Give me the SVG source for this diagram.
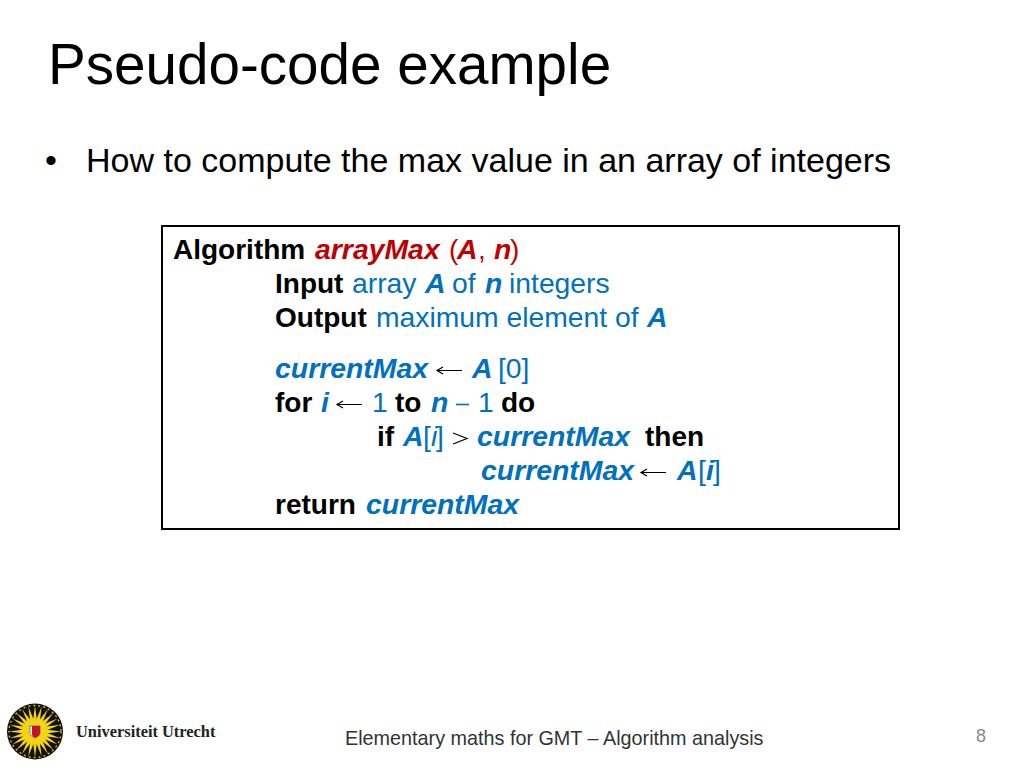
<svg xmlns="http://www.w3.org/2000/svg" width="1024" height="768" viewBox="0 0 1024 768">
<style>
text{font-family:"Liberation Sans",Arial,sans-serif;fill:#000}
.c{font-size:28px}
.k{font-weight:bold}
.b{fill:#0070c0;font-size:28.3px}
.bi{fill:#0070c0;font-weight:bold;font-style:italic;font-size:28.4px}
.r{fill:#c00000}
.ri{fill:#c00000;font-weight:bold;font-style:italic;font-size:28.4px}
.arrow{fill:none;stroke:#000;stroke-width:1.2}
</style>
<defs>
<polygon id="ray" points="-2.2,-9 2.2,-9 0,-26" fill="#f2d516"/>
<g id="left"><path class="arrow" d="M1 0.5H26M7 -3L1 0.5L7 4"/></g>
</defs>
<rect width="1024" height="768" fill="#fff"/>
<g id="title"><text x="48" y="84" font-size="56.6">Pseudo-code example</text></g>
<g id="bullet">
<text x="45" y="172" font-size="34">•</text>
<text x="86" y="172" font-size="34">How to compute the max value in an array of integers</text>
</g>
<g id="algorithm">
<rect x="162" y="226" width="737" height="303" fill="#fff" stroke="#000" stroke-width="2"/>
<text class="c" y="259"><tspan x="173" class="k">Algorithm</tspan><tspan x="315" class="ri">arrayMax</tspan><tspan x="449" class="r">(</tspan><tspan x="457" class="ri">A</tspan><tspan x="478" class="r">,</tspan><tspan x="494" class="ri">n</tspan><tspan x="510" class="r">)</tspan></text>
<text class="c" y="293"><tspan x="275" class="k">Input</tspan><tspan x="352" class="b">array</tspan><tspan x="425" class="bi">A</tspan><tspan x="452" class="b">of</tspan><tspan x="485" class="bi">n</tspan><tspan x="509" class="b">integers</tspan></text>
<text class="c" y="327"><tspan x="275" class="k">Output</tspan><tspan x="376" class="b">maximum element of</tspan><tspan x="647" class="bi">A</tspan></text>
<text class="c" y="378"><tspan x="275" class="bi">currentMax</tspan><tspan x="472" class="bi">A</tspan><tspan x="498" class="b">[0]</tspan></text>
<use href="#left" x="436" y="370"/>
<text class="c" y="412"><tspan x="275" class="k">for</tspan><tspan x="321" class="bi">i</tspan><tspan x="372" class="b">1</tspan><tspan x="395" class="k">to</tspan><tspan x="431" class="bi">n</tspan><tspan x="478" class="b">1</tspan><tspan x="501" class="k">do</tspan></text>
<use href="#left" x="336" y="404"/>
<path d="M456 404.500H469" stroke="#0070c0" stroke-width="1.6"/>
<text class="c" y="446"><tspan x="377" class="k">if</tspan><tspan x="403" class="bi">A</tspan><tspan x="423" class="b">[</tspan><tspan x="431" class="b" font-style="italic">i</tspan><tspan x="436" class="b">]</tspan><tspan x="477" class="bi">currentMax</tspan><tspan x="645" class="k">then</tspan></text>
<path class="arrow" d="M453 433L467 438.500L453 444"/>
<text class="c" y="480"><tspan x="481" class="bi">currentMax</tspan><tspan x="677" class="bi">A</tspan><tspan x="698" class="b">[</tspan><tspan x="706" class="bi">i</tspan><tspan x="713" class="b">]</tspan></text>
<use href="#left" x="640" y="472"/>
<text class="c" y="514"><tspan x="275" class="k">return</tspan><tspan x="366" class="bi">currentMax</tspan></text>
</g>
<g id="logo">
<circle cx="35" cy="731.500" r="28" fill="#111"/>
<g transform="translate(35 731.500)">
<circle r="26" fill="none" stroke="#c9b22a" stroke-width="1.500" stroke-dasharray="2 3"/>
<use href="#ray"/><use href="#ray" transform="rotate(15)"/><use href="#ray" transform="rotate(30)"/><use href="#ray" transform="rotate(45)"/><use href="#ray" transform="rotate(60)"/><use href="#ray" transform="rotate(75)"/><use href="#ray" transform="rotate(90)"/><use href="#ray" transform="rotate(105)"/><use href="#ray" transform="rotate(120)"/><use href="#ray" transform="rotate(135)"/><use href="#ray" transform="rotate(150)"/><use href="#ray" transform="rotate(165)"/><use href="#ray" transform="rotate(180)"/><use href="#ray" transform="rotate(195)"/><use href="#ray" transform="rotate(210)"/><use href="#ray" transform="rotate(225)"/><use href="#ray" transform="rotate(240)"/><use href="#ray" transform="rotate(255)"/><use href="#ray" transform="rotate(270)"/><use href="#ray" transform="rotate(285)"/><use href="#ray" transform="rotate(300)"/><use href="#ray" transform="rotate(315)"/><use href="#ray" transform="rotate(330)"/><use href="#ray" transform="rotate(345)"/>
<circle r="12" fill="#f2d516"/>
</g>
<path d="M30 726H40V733Q40 736 35 738Q30 736 30 733Z" fill="#fff" stroke="#222" stroke-width="0.500"/>
<path d="M32 726H40V733Q40 736 35 738Q33 737 32 735Z" fill="#c8102e"/>
<text x="76" y="737" font-size="16.4" font-weight="bold" style="font-family:'Liberation Serif',serif;fill:#222">Universiteit Utrecht</text>
</g>
<g id="footer">
<text x="345" y="745" font-size="19.800" style="fill:#333">Elementary maths for GMT – Algorithm analysis</text>
<text x="976" y="742" font-size="18" style="fill:#8a8a8a">8</text>
</g>
</svg>
